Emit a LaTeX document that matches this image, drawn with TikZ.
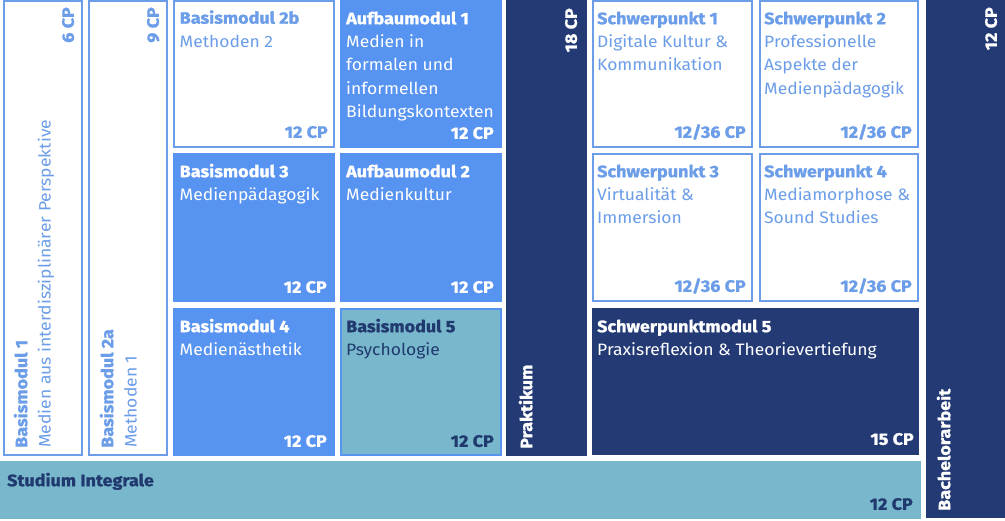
\documentclass[tikz,border=0pt]{standalone}
\usepackage{fontspec}
\setmainfont{Fira Sans}[FakeStretch=1.06, BoldFeatures={FakeStretch=1.09, FakeBold=1.2}]
\definecolor{lblue}{HTML}{6B9DE8}
\definecolor{mblue}{HTML}{5793F0}
\definecolor{navy}{HTML}{233A74}
\definecolor{teal2}{HTML}{79B8CC}
\definecolor{tnavy}{HTML}{20396E}
\newcommand\lw{2.4}
\newcommand\fl{\rule{0pt}{14pt}}
\newcommand\modbox[6]{\node[#6, minimum width={#4-#2-\lw}, minimum height={#5-#3-\lw}] (#1) at ({(#2+#4)/2},{(#3+#5)/2}) {};}
\tikzset{
  base/.style={inner sep=0pt, outer sep=0pt, line width=\lw pt, rectangle},
  outl/.style={base, draw=lblue, fill=white},
  fblue/.style={base, draw=mblue, fill=mblue},
  fnavy/.style={base, draw=navy, fill=navy},
  fteal/.style={base, draw=teal2, fill=teal2},
  fpsy/.style={base, draw=mblue, fill=teal2},
  txt/.style={inner sep=0pt, outer sep=0pt, align=left, font={\fontsize{16.5}{23.4}\selectfont}},
  cp/.style={inner sep=0pt, outer sep=0pt, font={\fontsize{16.5}{23.4}\selectfont\bfseries}},
}
\begin{document}
\begin{tikzpicture}[x=1pt,y=-1pt]
\useasboundingbox (0,0) rectangle (1005,521);
% boxes
\modbox{b1}{3}{0}{83}{456}{outl}
\modbox{b2a}{88}{0}{168}{456}{outl}
\modbox{b2b}{173}{0}{335}{148}{outl}
\modbox{a1}{340}{0}{502}{148}{fblue}
\modbox{b3}{173}{153}{335}{302}{fblue}
\modbox{a2}{340}{153}{502}{302}{fblue}
\modbox{b4}{173}{308}{335}{456}{fblue}
\modbox{b5}{340}{308}{502}{456}{fpsy}
\modbox{pr}{506}{0}{587}{456}{fnavy}
\modbox{s1}{592}{0}{753}{148}{outl}
\modbox{s2}{759}{0}{919}{148}{outl}
\modbox{s3}{592}{153}{753}{302}{outl}
\modbox{s4}{759}{153}{919}{302}{outl}
\modbox{s5}{592}{308}{919}{455}{fnavy}
\modbox{si}{0}{461}{921}{519}{fteal}
\modbox{ba}{926}{0}{1005}{518}{fnavy}
% horizontal texts
\node[txt, lblue, anchor=north west] (b2b-t) at ([shift={(5.5,8.5)}]b2b.north west) {\fl\textbf{Basismodul 2b}\\Methoden 2};
\node[txt, white, anchor=north west] (a1-t) at ([shift={(5,9)}]a1.north west) {\fl\textbf{Aufbaumodul 1}\\Medien in\\formalen und\\informellen\\Bildungskontexten};
\node[txt, white, anchor=north west] (b3-t) at ([shift={(5.5,9)}]b3.north west) {\fl\textbf{Basismodul 3}\\Medienpädagogik};
\node[txt, white, anchor=north west] (a2-t) at ([shift={(5,9)}]a2.north west) {\fl\textbf{Aufbaumodul 2}\\Medienkultur};
\node[txt, white, anchor=north west] (b4-t) at ([shift={(5.5,9)}]b4.north west) {\fl\textbf{Basismodul 4}\\Medienästhetik};
\node[txt, tnavy, anchor=north west] (b5-t) at ([shift={(5,9)}]b5.north west) {\fl\textbf{Basismodul 5}\\Psychologie};
\node[txt, lblue, anchor=north west] (s1-t) at ([shift={(4,9)}]s1.north west) {\fl\textbf{Schwerpunkt 1}\\Digitale Kultur \&\\Kommunikation};
\node[txt, lblue, anchor=north west] (s2-t) at ([shift={(4,9)}]s2.north west) {\fl\textbf{Schwerpunkt 2}\\Professionelle\\Aspekte der\\Medienpädagogik};
\node[txt, lblue, anchor=north west] (s3-t) at ([shift={(4,9)}]s3.north west) {\fl\textbf{Schwerpunkt 3}\\Virtualität \&\\Immersion};
\node[txt, lblue, anchor=north west] (s4-t) at ([shift={(4,9)}]s4.north west) {\fl\textbf{Schwerpunkt 4}\\Mediamorphose \&\\Sound Studies};
\node[txt, white, anchor=north west] (s5-t) at ([shift={(4,9)}]s5.north west) {\fl\textbf{Schwerpunktmodul 5}\\Praxisreflexion \& Theorievertiefung};
\node[txt, tnavy, anchor=north west] (si-t) at ([shift={(6,10)}]si.north west) {\fl\textbf{Studium Integrale}};
% CP labels
\node[cp, lblue, anchor=base east] (b2b-c) at ([shift={(-6,-9)}]b2b.south east) {12 CP};
\node[cp, white, anchor=base east] (a1-c) at ([shift={(-7,-8)}]a1.south east) {12 CP};
\node[cp, white, anchor=base east] (b3-c) at ([shift={(-7,-8)}]b3.south east) {12 CP};
\node[cp, white, anchor=base east] (a2-c) at ([shift={(-7,-8)}]a2.south east) {12 CP};
\node[cp, white, anchor=base east] (b4-c) at ([shift={(-7,-8)}]b4.south east) {12 CP};
\node[cp, tnavy, anchor=base east] (b5-c) at ([shift={(-7,-8)}]b5.south east) {12 CP};
\node[cp, lblue, anchor=base east] (s1-c) at ([shift={(-6,-9)}]s1.south east) {12/36 CP};
\node[cp, lblue, anchor=base east] (s2-c) at ([shift={(-6,-9)}]s2.south east) {12/36 CP};
\node[cp, lblue, anchor=base east] (s3-c) at ([shift={(-6,-9)}]s3.south east) {12/36 CP};
\node[cp, lblue, anchor=base east] (s4-c) at ([shift={(-6,-9)}]s4.south east) {12/36 CP};
\node[cp, white, anchor=base east] (s5-c) at ([shift={(-4,-9)}]s5.south east) {15 CP};
\node[cp, tnavy, anchor=base east] (si-c) at ([shift={(-7,-8)}]si.south east) {12 CP};
% rotated texts
\node[txt, lblue, rotate=90, anchor=north west] (b1-t) at ([shift={(9,-7)}]b1.south west) {\fl\textbf{Basismodul 1}\\Medien aus interdisziplinärer Perspektive};
\node[txt, lblue, rotate=90, anchor=north west] (b2a-t) at ([shift={(10,-7)}]b2a.south west) {\fl\textbf{Basismodul 2a}\\Methoden 1};
\node[cp, lblue, rotate=90, anchor=base east] (b1-c) at ([shift={(-8,6)}]b1.north east) {6 CP};
\node[cp, lblue, rotate=90, anchor=base east] (b2a-c) at ([shift={(-8,6)}]b2a.north east) {9 CP};
\node[cp, white, rotate=90, anchor=base west] (pr-t) at ([shift={(25,-6)}]pr.south west) {Praktikum};
\node[cp, white, rotate=90, anchor=base east] (pr-c) at ([shift={(-9,7)}]pr.north east) {18 CP};
\node[cp, white, rotate=90, anchor=base west] (ba-t) at ([shift={(23,-6)}]ba.south west) {Bachelorarbeit};
\node[cp, white, rotate=90, anchor=base east] (ba-c) at ([shift={(-7,6)}]ba.north east) {12 CP};
\end{tikzpicture}
\end{document}
